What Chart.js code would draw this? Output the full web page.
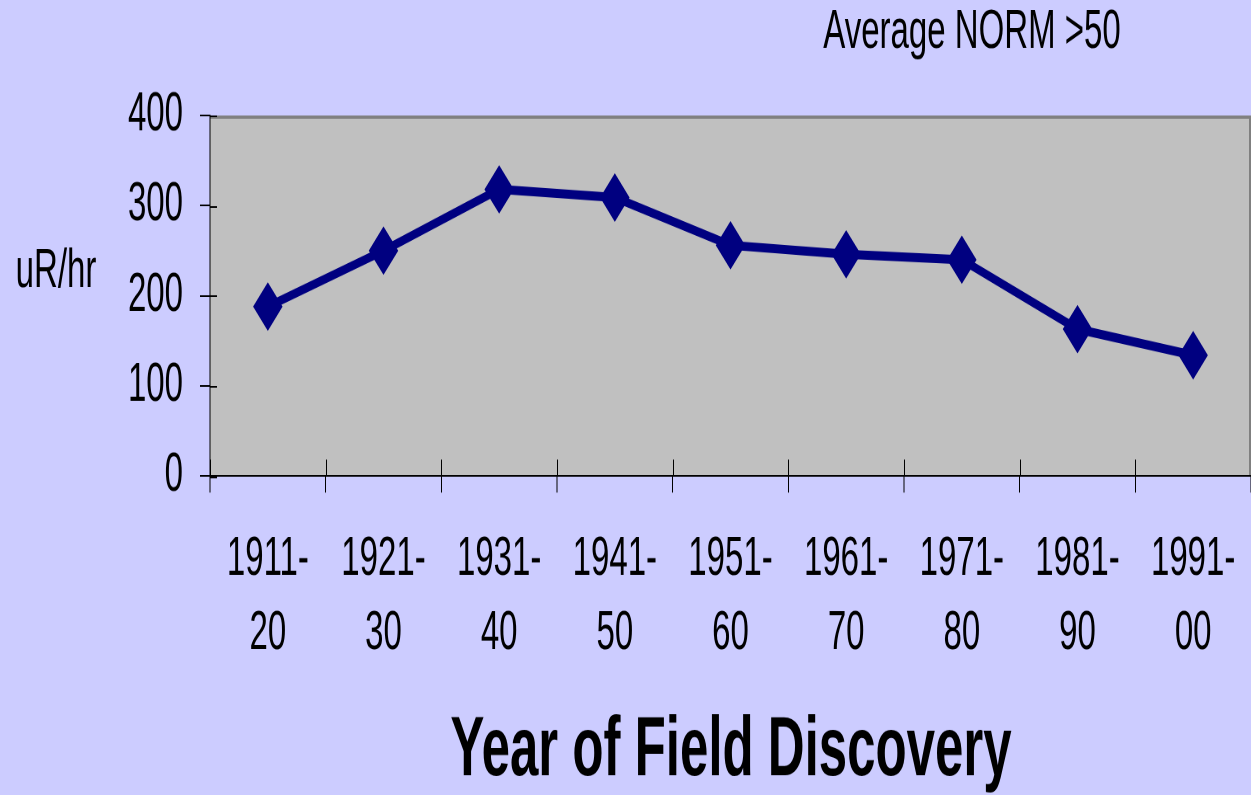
<!DOCTYPE html>
<html>
<head>
<meta charset="utf-8">
<script src="https://cdn.jsdelivr.net/npm/chart.js@4.4.1/dist/chart.umd.min.js"></script>
<style>
  html, body { margin: 0; padding: 0; background: #CCCCFF; overflow: hidden; }
  #wrap { width: 1251px; height: 795px; overflow: hidden; }
  #norm-chart { transform-origin: 0 0; transform: scaleY(1.6494); }
</style>
</head>
<body>
<div id="wrap"><canvas id="norm-chart" width="1251" height="482"></canvas></div>
<script>
const decades = [['1911-', '20'], ['1921-', '30'], ['1931-', '40'], ['1941-', '50'], ['1951-', '60'],
  ['1961-', '70'], ['1971-', '80'], ['1981-', '90'], ['1991-', '00']]
const avgNorm = [188, 250, 318, 309, 256, 246, 240, 163, 134]
const yTicks = [0, 100, 200, 300, 400]

const chartTitle = 'Average NORM >50'
const yTitle = 'uR/hr'
const xTitle = 'Year of Field Discovery'

const fontFamily = '"Liberation Sans", Arial, sans-serif'
const ctx = document.getElementById('norm-chart')

// plot background, frame, inner tick marks and free texts
const framePlugin = {
  id: 'frame',
  beforeDraw(chart) {
    const c = chart.ctx, a = chart.chartArea
    c.save()
    c.fillStyle = '#CCCCFF'
    c.fillRect(0, 0, chart.width, chart.height)
    c.fillStyle = '#C0C0C0'
    c.fillRect(a.left, a.top, a.right - a.left, a.bottom - a.top)
    c.strokeStyle = '#808080'
    c.lineWidth = 2
    c.beginPath()
    c.moveTo(a.left, a.top + 1)
    c.lineTo(a.right - 1, a.top + 1)
    c.lineTo(a.right - 1, a.bottom)
    c.stroke()
    c.restore()
  },
  afterDraw(chart) {
    const c = chart.ctx, a = chart.chartArea
    const x = chart.scales.x, y = chart.scales.y
    c.save()
    c.strokeStyle = '#000'
    c.lineWidth = 1
    c.beginPath()
    yTicks.forEach(v => {
      const py = Math.round(y.getPixelForValue(v)) + 0.5
      c.moveTo(a.left, py)
      c.lineTo(a.left + 7, py)
    })
    for (let i = 0; i <= decades.length; i++) {
      const px = Math.round(x.getPixelForValue(i - 0.5)) + 0.5
      c.moveTo(px, a.bottom)
      c.lineTo(px, a.bottom - 10)
    }
    c.stroke()

    c.fillStyle = '#000'
    c.textBaseline = 'middle'
    c.textAlign = 'center'
    c.font = '33px ' + fontFamily
    c.fillText(chartTitle, 972, 20)
    c.fillText(yTitle, 56, 165)
    c.font = 'bold 51px ' + fontFamily
    c.fillText(xTitle, 731, 456)
    c.restore()
  }
}

const normChart = new Chart(ctx, {
  type: 'line',
  data: {
    labels: decades,
    datasets: [{
      label: chartTitle,
      data: avgNorm,
      borderColor: '#000080',
      backgroundColor: '#000080',
      borderWidth: 5.5,
      pointStyle: 'rectRot',
      pointRadius: 14,
      pointBorderWidth: 1,
      pointBorderColor: '#000080',
      pointBackgroundColor: '#000080',
      tension: 0
    }]
  },
  options: {
    responsive: false,
    animation: false,
    devicePixelRatio: 2,
    layout: { autoPadding: false, padding: { top: 70, left: 0, right: 0, bottom: 0 } },
    plugins: { legend: { display: false }, tooltip: { enabled: false } },
    scales: {
      x: {
        offset: true,
        afterFit: s => { s.height = 193.4; s.paddingLeft = 0; s.paddingRight = 0 },
        grid: { offset: true, drawOnChartArea: false, tickLength: 10, color: '#000' },
        border: { color: '#000', width: 1 },
        ticks: {
          color: '#000', maxRotation: 0, autoSkip: false, padding: 18,
          font: { family: fontFamily, size: 33, lineHeight: 1.37 }
        }
      },
      y: {
        min: 0,
        max: 400,
        afterFit: s => { s.width = 210 },
        afterBuildTicks: s => { s.ticks = yTicks.map(v => ({ value: v })) },
        grid: { drawOnChartArea: false, tickLength: 10, color: '#000' },
        border: { color: '#000', width: 1 },
        ticks: {
          color: '#000', padding: 17,
          font: { family: fontFamily, size: 33 }
        }
      }
    }
  },
  plugins: [framePlugin]
})
</script>
</body>
</html>
